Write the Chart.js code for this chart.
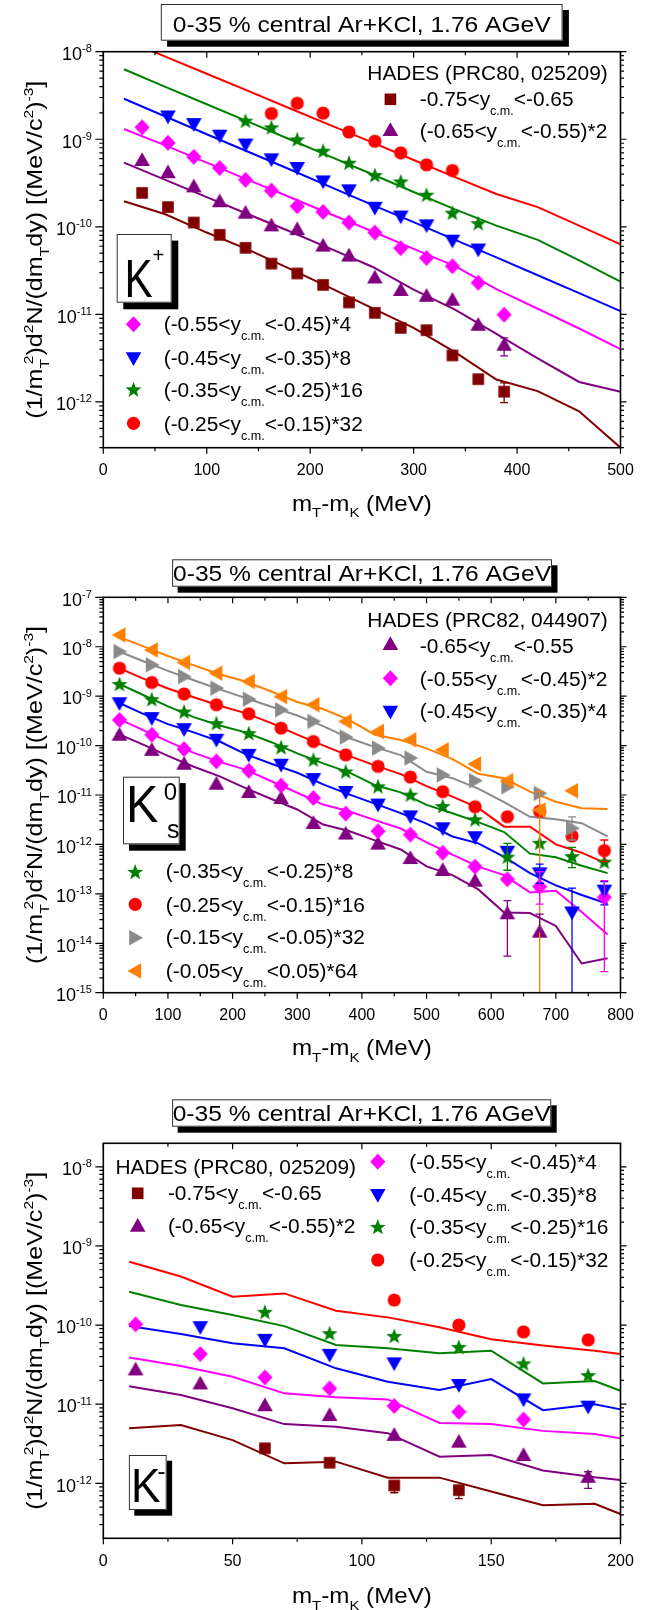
<!DOCTYPE html>
<html lang="en">
<head>
    <meta charset="UTF-8">
    <title>Kaon transverse mass spectra, Ar+KCl 1.76 AGeV</title>
    <script src="https://cdn.jsdelivr.net/npm/chart.js"></script>
    <style>
        body { margin: 0; background: #fff; }
        #wrap { position: relative; width: 659px; height: 1610px; }
        #wrap canvas { position: absolute; left: 0; }
    </style>
</head>
<body>
    <div id="wrap">
        <canvas id="kplus" width="659" height="530" style="top:0px"></canvas>
        <canvas id="k0s" width="659" height="540" style="top:530px"></canvas>
        <canvas id="kminus" width="659" height="540" style="top:1070px"></canvas>
    </div>
    <script>
        // ---------- K+ (PRC80, 025209) ----------
        const kpX = [37.5, 62.5, 87.5, 112.5, 137.5, 162.5, 187.5, 212.5, 237.5, 262.5, 287.5, 312.5, 337.5, 362.5, 387.5];
        const kpBrown   = [2.44e-10, 1.68e-10, 1.12e-10, 8.1e-11, 5.75e-11, 3.8e-11, 2.93e-11, 2.17e-11, 1.37e-11, 1.04e-11, 7.0e-12, 6.6e-12, 3.4e-12, 1.82e-12, 1.31e-12];
        const kpPurple  = [5.8e-10, 4.2e-10, 2.9e-10, 1.96e-10, 1.45e-10, 1.04e-10, 9.4e-11, 6.1e-11, 4.7e-11, 2.64e-11, 1.9e-11, 1.63e-11, 1.47e-11, 7.6e-12, 4.5e-12];
        const kpMagenta = [1.37e-9, 9.1e-10, 6.3e-10, 4.7e-10, 3.44e-10, 2.59e-10, 1.72e-10, 1.48e-10, 1.12e-10, 8.6e-11, 5.7e-11, 4.4e-11, 3.55e-11, 2.3e-11, 9.9e-12];
        const kpBlue    = [null, 1.82e-9, 1.49e-9, 1.10e-9, 8.7e-10, 5.9e-10, 4.7e-10, 3.3e-10, 2.61e-10, 1.65e-10, 1.31e-10, 1.04e-10, 6.95e-11, 5.5e-11, null];
        const kpGreen   = [null, null, null, null, 1.63e-9, 1.37e-9, 1.0e-9, 7.4e-10, 5.4e-10, 3.9e-10, 3.3e-10, 2.33e-10, 1.45e-10, 1.1e-10, null];
        const kpRed     = [null, null, null, null, null, 1.97e-9, 2.58e-9, 1.99e-9, 1.21e-9, 9.5e-10, 7.0e-10, 5.1e-10, 4.4e-10, null, null];
        const kpBrownErr  = [null, null, null, null, null, null, null, null, null, null, null, null, null, null, [9.8e-13, 1.65e-12]];
        const kpPurpleErr = [null, null, null, null, null, null, null, null, null, null, null, null, null, null, [3.35e-12, 5.4e-12]];

        const kpLineX = [20, 60, 100, 140, 180, 220, 260, 300, 340, 380, 420, 460, 500];
        const kpRedLine     = [1.39e-8, 8.8e-9, 5.6e-9, 3.57e-9, 2.26e-9, 1.44e-9, 9.2e-10, 5.8e-10, 3.7e-10, 2.37e-10, 1.68e-10, 1.03e-10, 6.3e-11];
        const kpGreenLine   = [6.3e-9, 3.97e-9, 2.51e-9, 1.59e-9, 1.0e-9, 6.3e-10, 3.98e-10, 2.5e-10, 1.58e-10, 1.03e-10, 7.1e-11, 4.14e-11, 2.36e-11];
        const kpBlueLine    = [2.9e-9, 1.82e-9, 1.14e-9, 7.2e-10, 4.54e-10, 2.84e-10, 1.78e-10, 1.13e-10, 7.1e-11, 4.48e-11, 2.8e-11, 1.75e-11, 1.09e-11];
        const kpMagentaLine = [1.31e-9, 8.5e-10, 5.4e-10, 3.44e-10, 2.19e-10, 1.39e-10, 8.9e-11, 5.6e-11, 3.55e-11, 1.94e-11, 1.16e-11, 6.9e-12, 4.0e-12];
        const kpPurpleLine  = [5.4e-10, 3.44e-10, 2.18e-10, 1.39e-10, 8.9e-11, 5.6e-11, 3.5e-11, 1.92e-11, 1.13e-11, 6.0e-12, 3.15e-12, 1.69e-12, 1.31e-12];
        const kpBrownLine   = [1.96e-10, 1.39e-10, 8.6e-11, 5.5e-11, 3.33e-11, 1.99e-11, 1.18e-11, 7.0e-12, 3.7e-12, 1.8e-12, 1.33e-12, 7.8e-13, 3.0e-13];

        // ---------- K0s (PRC82, 044907) ----------
        const k0X = [25, 75, 125, 175, 225, 275, 325, 375, 425, 475, 525, 575, 625, 675, 725, 775];
        const k0Orange  = [1.73e-8, 8.6e-9, 4.8e-9, 2.92e-9, 1.98e-9, 9.8e-10, 6.7e-10, 3.08e-10, 1.93e-10, 1.31e-10, 8.2e-11, 4.25e-11, 1.95e-11, 4.98e-12, 1.22e-11, null];
        const k0Gray    = [8.0e-9, 4.3e-9, 2.49e-9, 1.45e-9, 8.7e-10, 5.3e-10, 3.08e-10, 1.49e-10, 8.9e-11, 5.6e-11, 2.54e-11, 1.95e-11, 1.47e-11, 1.08e-11, 2.12e-12, null];
        const k0Red     = [3.68e-9, 1.89e-9, 1.11e-9, 6.7e-10, 4.4e-10, 2.26e-10, 1.21e-10, 6.5e-11, 3.8e-11, 2.31e-11, 1.17e-11, 5.8e-12, 3.64e-12, 4.7e-12, 1.48e-12, 7.5e-13];
        const k0Green   = [1.77e-9, 8.7e-10, 4.9e-10, 2.85e-10, 1.79e-10, 9.3e-11, 5.2e-11, 3.0e-11, 1.5e-11, 1.02e-11, 6.0e-12, 3.23e-12, 5.65e-13, 1.08e-12, 5.8e-13, 4.5e-13];
        const k0Blue    = [7.2e-10, 3.6e-10, 2.15e-10, 1.31e-10, 6.5e-11, 4.1e-11, 2.1e-11, 1.15e-11, 6.4e-12, 3.7e-12, 2.12e-12, 1.4e-12, 7.1e-13, 2.6e-13, 4.2e-14, 1.16e-13];
        const k0Magenta = [3.3e-10, 1.66e-10, 8.5e-11, 4.8e-11, 3.1e-11, 1.55e-11, 8.7e-12, 4.2e-12, 1.85e-12, 1.58e-12, 6.8e-13, 3.55e-13, 1.97e-13, 1.4e-13, null, 8.5e-14];
        const k0Purple  = [1.66e-10, 8.2e-11, 4.3e-11, 1.69e-11, 1.15e-11, 8.7e-12, 2.72e-12, 1.66e-12, 1.04e-12, 5.3e-13, 3.04e-13, 1.85e-13, 4.05e-14, 1.72e-14, null, null];
        const k0OrangeErr  = [null, null, null, null, null, null, null, null, null, null, null, null, null, [1e-16, 1.17e-11], null, null];
        const k0GrayErr    = [null, null, null, null, null, null, null, null, null, null, null, null, null, null, [1.23e-12, 3.6e-12], null];
        const k0RedErr     = [null, null, null, null, null, null, null, null, null, null, null, null, null, null, null, [4.5e-13, 1.23e-12]];
        const k0GreenErr   = [null, null, null, null, null, null, null, null, null, null, null, null, [3.0e-13, 1.05e-12], null, [3.4e-13, 8.7e-13], null];
        const k0BlueErr    = [null, null, null, null, null, null, null, null, null, null, null, null, null, [1.64e-13, 4.0e-13], [1e-16, 1.3e-13], [6.0e-14, 1.77e-13]];
        const k0MagentaErr = [null, null, null, null, null, null, null, null, null, null, null, null, null, [6.2e-14, 2.8e-13], null, [2.66e-15, 1.85e-13]];
        const k0PurpleErr  = [null, null, null, null, null, null, null, null, null, null, null, null, [5.5e-15, 7.3e-14], [1.72e-14, 3.9e-14], null, null];

        const k0LineX = [20, 60, 100, 140, 180, 220, 260, 300, 340, 380, 420, 460, 500, 540, 580, 620, 660, 700, 740, 780];
        const k0OrangeLine  = [1.66e-8, 1.04e-8, 6.5e-9, 4.2e-9, 2.78e-9, 1.98e-9, 1.24e-9, 7.6e-10, 5.5e-10, 3.3e-10, 1.66e-10, 1.3e-10, 8.8e-11, 5.3e-11, 2.7e-11, 2.18e-11, 1.17e-11, 7.3e-12, 5.4e-12, 5.2e-12];
        const k0GrayLine    = [8.5e-9, 5.2e-9, 3.25e-9, 2.1e-9, 1.37e-9, 9.2e-10, 6.1e-10, 4.06e-10, 2.48e-10, 1.42e-10, 9.3e-11, 6.4e-11, 2.95e-11, 2.19e-11, 1.35e-11, 7.2e-12, 3.63e-12, 3.24e-12, 2.69e-12, 1.45e-12];
        const k0RedLine     = [3.92e-9, 2.31e-9, 1.43e-9, 9.5e-10, 6.4e-10, 4.54e-10, 2.85e-10, 1.66e-10, 1.01e-10, 6.2e-11, 3.97e-11, 2.65e-11, 1.51e-11, 9.3e-12, 5.5e-12, 2.29e-12, 2.29e-12, 1.0e-12, 6.8e-13, 4.0e-13];
        const k0GreenLine   = [1.89e-9, 1.08e-9, 6.2e-10, 3.77e-10, 2.55e-10, 1.85e-10, 1.17e-10, 6.95e-11, 4.37e-11, 2.87e-11, 1.59e-11, 1.13e-11, 6.3e-12, 4.27e-12, 2.82e-12, 1.78e-12, 6.5e-13, 5.5e-13, 3.7e-13, 2.63e-13];
        const k0BlueLine    = [7.8e-10, 4.47e-10, 2.72e-10, 1.85e-10, 1.21e-10, 6.7e-11, 4.3e-11, 2.82e-11, 1.64e-11, 1.03e-11, 6.7e-12, 4.3e-12, 2.63e-12, 1.45e-12, 1.05e-12, 5.6e-13, 2.63e-13, 1.48e-13, 9.5e-14, 6.3e-14];
        const k0MagentaLine = [3.68e-10, 2.1e-10, 1.22e-10, 7.1e-11, 4.68e-11, 3.27e-11, 1.9e-11, 1.11e-11, 6.4e-12, 4.68e-12, 3.1e-12, 2.1e-12, 1.1e-12, 6.2e-13, 3.55e-13, 2.4e-13, 1.07e-13, 1.15e-13, 4.3e-14, 1.5e-14];
        const k0PurpleLine  = [1.79e-10, 1.07e-10, 6.2e-11, 3.73e-11, 2.38e-11, 1.38e-11, 8.3e-12, 5.1e-12, 2.52e-12, 1.87e-12, 1.21e-12, 7.9e-13, 3.6e-13, 2.4e-13, 1.23e-13, 4.2e-14, 4.1e-14, 2.24e-14, 3.9e-15, 5.0e-15];

        // ---------- K- (PRC80, 025209) ----------
        const kmX = [12.5, 37.5, 62.5, 87.5, 112.5, 137.5, 162.5, 187.5];
        const kmRed     = [null, null, null, null, 2.07e-10, 1.0e-10, 8.2e-11, 6.5e-11];
        const kmGreen   = [null, null, 1.47e-10, 7.9e-11, 7.3e-11, 5.3e-11, 3.28e-11, 2.33e-11];
        const kmBlue    = [null, 9.4e-11, 6.5e-11, 4.2e-11, 3.28e-11, 1.75e-11, 1.15e-11, 9.3e-12];
        const kmMagenta = [1.02e-10, 4.3e-11, 2.18e-11, 1.58e-11, 9.5e-12, 8.0e-12, 6.4e-12, null];
        const kmPurple  = [2.75e-11, 1.83e-11, 9.7e-12, 7.3e-12, 4.1e-12, 3.36e-12, 2.28e-12, 1.21e-12];
        const kmBrown   = [null, null, 2.77e-12, 1.82e-12, 9.4e-13, 8.2e-13, null, null];
        const kmBrownErr  = [null, null, null, null, [7.6e-13, 1.0e-12], [6.4e-13, 9.0e-13], null, null];
        const kmPurpleErr = [null, null, null, null, null, null, null, [8.65e-13, 1.4e-12]];

        const kmLineX = [10, 30, 50, 70, 90, 110, 130, 150, 170, 190, 200];
        const kmRedLine     = [6.3e-10, 4.1e-10, 2.28e-10, 2.51e-10, 1.52e-10, 1.25e-10, 9.4e-11, 6.6e-11, 5.5e-11, 4.74e-11, 4.3e-11];
        const kmGreenLine   = [2.64e-10, 1.79e-10, 1.34e-10, 9.7e-11, 5.6e-11, 5.1e-11, 4.4e-11, 4.74e-11, 1.83e-11, 1.96e-11, 1.48e-11];
        const kmBlueLine    = [9.7e-11, 7.7e-11, 5.9e-11, 5.1e-11, 2.84e-11, 1.92e-11, 1.51e-11, 2.08e-11, 8.4e-12, 1.0e-11, 8.6e-12];
        const kmMagentaLine = [3.9e-11, 3.03e-11, 2.22e-11, 1.37e-11, 1.22e-11, 1.15e-11, 5.8e-12, 5.6e-12, 4.6e-12, 4.2e-12, 3.7e-12];
        const kmPurpleLine  = [1.69e-11, 1.31e-11, 8.9e-12, 5.6e-12, 5.2e-12, 4.3e-12, 2.17e-12, 2.28e-12, 1.45e-12, 1.19e-12, 1.1e-12];
        const kmBrownLine   = [4.95e-12, 5.45e-12, 3.52e-12, 1.79e-12, 1.88e-12, 1.18e-12, 1.18e-12, 7.9e-13, 5.3e-13, 5.5e-13, 4.1e-13];

        const FONT = '"Liberation Sans", Arial, Helvetica, sans-serif';
        const RED = '#ff0000', GREEN = '#008000', BLUE = '#0000ff', MAGENTA = '#ff00ff',
              PURPLE = '#800080', BROWN = '#800000', ORANGE = '#ff8000', GRAY = '#8a8a8a';
        const TITLE = '0-35 % central Ar+KCl, 1.76 AGeV';

        function drawShape(g, shape, x, y, color) {
            g.fillStyle = color;
            g.beginPath();
            if (shape === 'circle') {
                g.arc(x, y, 6.6, 0, Math.PI * 2);
            } else if (shape === 'square') {
                g.rect(x - 5.8, y - 5.8, 11.6, 11.6);
            } else if (shape === 'diamond') {
                g.moveTo(x, y - 8); g.lineTo(x + 7.6, y); g.lineTo(x, y + 8); g.lineTo(x - 7.6, y);
            } else if (shape === 'up') {
                g.moveTo(x, y - 7.8); g.lineTo(x + 7.8, y + 6); g.lineTo(x - 7.8, y + 6);
            } else if (shape === 'down') {
                g.moveTo(x, y + 7.8); g.lineTo(x + 7.8, y - 6); g.lineTo(x - 7.8, y - 6);
            } else if (shape === 'left') {
                g.moveTo(x - 7.8, y); g.lineTo(x + 6, y - 7.8); g.lineTo(x + 6, y + 7.8);
            } else if (shape === 'right') {
                g.moveTo(x + 7.8, y); g.lineTo(x - 6, y - 7.8); g.lineTo(x - 6, y + 7.8);
            } else if (shape === 'star') {
                for (let i = 0; i < 10; i++) {
                    const r = i % 2 ? 3.5 : 8.4;
                    const t = -Math.PI / 2 + i * Math.PI / 5;
                    const px = x + r * Math.cos(t), py = y + r * Math.sin(t) + 0.8;
                    if (i === 0) g.moveTo(px, py); else g.lineTo(px, py);
                }
            }
            g.closePath();
            g.fill();
        }

        function sprite(shape, color) {
            const c = document.createElement('canvas');
            c.width = 20; c.height = 20;
            drawShape(c.getContext('2d'), shape, 10, 10, color);
            return c;
        }

        function pts(xs, ys, errs) {
            const out = [];
            xs.forEach((x, i) => {
                if (ys[i] == null) return;
                out.push({ x: x, y: ys[i], err: errs ? errs[i] : null });
            });
            return out;
        }

        function markers(xs, ys, shape, color, errs) {
            return { data: pts(xs, ys, errs), pointStyle: sprite(shape, color), pointRadius: 7,
                     showLine: false, order: 0, errColor: color };
        }

        function model(xs, ys, color) {
            return { data: pts(xs, ys), showLine: true, borderColor: color, borderWidth: 2,
                     pointRadius: 0, tension: 0, order: 1 };
        }

        // text with _{sub} and ^{sup} pieces
        function parseRich(s) {
            const out = [];
            const re = /([_^])\{([^}]*)\}/g;
            let last = 0, m;
            while ((m = re.exec(s))) {
                if (m.index > last) out.push([s.slice(last, m.index), '']);
                out.push([m[2], m[1]]);
                last = re.lastIndex;
            }
            if (last < s.length) out.push([s.slice(last), '']);
            return out;
        }

        function drawRich(ctx, s, x, y, size, o) {
            o = o || {};
            const parts = parseRich(s);
            const small = size * (o.small || 0.6);
            const layout = [];
            let cx = 0, subStart = null, subW = 0;
            parts.forEach(p => {
                const sz = p[1] ? small : size;
                ctx.font = sz + 'px ' + FONT;
                const w = ctx.measureText(p[0]).width;
                let dx = cx;
                if (p[1] === '^' && subStart !== null) {
                    dx = subStart + subW * 0.45;
                    cx = Math.max(subStart + subW, dx + w);
                } else {
                    cx += w;
                }
                subStart = p[1] === '_' ? dx : null;
                subW = w;
                const dy = p[1] === '_' ? size * (o.subDy || 0.42) : (p[1] === '^' ? -size * (o.supDy || 0.42) : 0);
                layout.push([p[0], sz, dx, dy]);
            });
            const sx = o.width ? o.width / cx : (o.sx || 1);
            const total = cx * sx;
            const x0 = o.align === 'center' ? x - total / 2 : x;
            ctx.save();
            ctx.translate(x0, y);
            ctx.scale(sx, 1);
            ctx.fillStyle = '#000';
            ctx.textAlign = 'left';
            ctx.textBaseline = 'alphabetic';
            layout.forEach(l => {
                ctx.font = l[1] + 'px ' + FONT;
                ctx.fillText(l[0], l[2], l[3]);
            });
            ctx.restore();
        }

        function shadowBox(ctx, x, y, w, h, dx, dy) {
            ctx.fillStyle = '#000';
            ctx.fillRect(x + dx, y + dy, w, h);
            ctx.fillStyle = '#fff';
            ctx.fillRect(x, y, w, h);
            ctx.strokeStyle = '#333';
            ctx.lineWidth = 1;
            ctx.strokeRect(x + 0.5, y + 0.5, w - 1, h - 1);
        }

        const errorBars = {
            id: 'errorBars',
            afterDatasetsDraw(chart) {
                const ctx = chart.ctx, a = chart.chartArea, ys = chart.scales.y;
                ctx.save();
                ctx.beginPath();
                ctx.rect(a.left, a.top, a.right - a.left, a.bottom - a.top);
                ctx.clip();
                chart.data.datasets.forEach((ds, di) => {
                    if (!ds.errColor) return;
                    const meta = chart.getDatasetMeta(di);
                    ds.data.forEach((p, i) => {
                        if (!p.err) return;
                        const px = meta.data[i].x;
                        const lo = ys.getPixelForValue(p.err[0]);
                        const hi = ys.getPixelForValue(p.err[1]);
                        ctx.strokeStyle = ds.errColor;
                        ctx.lineWidth = 1.3;
                        ctx.beginPath();
                        ctx.moveTo(px, lo); ctx.lineTo(px, hi);
                        ctx.moveTo(px - 4, hi); ctx.lineTo(px + 4, hi);
                        ctx.moveTo(px - 4, lo); ctx.lineTo(px + 4, lo);
                        ctx.stroke();
                    });
                });
                ctx.restore();
            }
        };

        function decor(cfg) {
            return {
                id: 'decor',
                beforeDraw(chart) {
                    const ctx = chart.ctx;
                    ctx.save();
                    ctx.fillStyle = '#fff';
                    ctx.fillRect(0, 0, chart.width, chart.height);
                    ctx.restore();
                },
                afterDraw(chart) {
                    const ctx = chart.ctx, a = chart.chartArea;
                    const xs = chart.scales.x, ys = chart.scales.y;
                    ctx.save();

                    // frame and ticks
                    ctx.strokeStyle = '#000';
                    ctx.lineWidth = 1.6;
                    ctx.strokeRect(a.left, a.top, a.right - a.left, a.bottom - a.top);
                    ctx.lineWidth = 1.2;
                    ctx.beginPath();
                    for (let v = 0; v <= cfg.xMax + 1e-9; v += cfg.xMinor) {
                        const px = xs.getPixelForValue(v);
                        const major = Math.abs(v / cfg.xMajor - Math.round(v / cfg.xMajor)) < 1e-6;
                        const len = major ? 6 : 3.5;
                        ctx.moveTo(px, a.bottom); ctx.lineTo(px, a.bottom + len);
                        ctx.moveTo(px, a.top); ctx.lineTo(px, a.top + len);
                    }
                    const e0 = Math.floor(Math.log10(ys.min)), e1 = Math.ceil(Math.log10(ys.max));
                    for (let e = e0; e <= e1; e++) {
                        for (let k = 1; k <= 9; k++) {
                            const v = k * Math.pow(10, e);
                            if (v < ys.min * 0.999 || v > ys.max * 1.001) continue;
                            const py = ys.getPixelForValue(v);
                            const len = k === 1 ? 8 : 4;
                            ctx.moveTo(a.left - len, py); ctx.lineTo(a.left, py);
                            ctx.moveTo(a.right, py); ctx.lineTo(a.right + (k === 1 ? 6 : 3.5), py);
                        }
                    }
                    ctx.stroke();

                    // tick labels
                    ctx.fillStyle = '#000';
                    ctx.textBaseline = 'alphabetic';
                    ctx.font = '16px ' + FONT;
                    ctx.textAlign = 'center';
                    for (let v = 0; v <= cfg.xMax + 1e-9; v += cfg.xMajor) {
                        ctx.fillText(String(v), xs.getPixelForValue(v), a.bottom + 27.5);
                    }
                    ctx.textAlign = 'left';
                    for (let e = e0; e <= e1; e++) {
                        const v = Math.pow(10, e);
                        if (v < ys.min * 0.999 || v > ys.max * 1.001) continue;
                        const py = ys.getPixelForValue(v);
                        const ex = String(e);
                        ctx.font = '11px ' + FONT;
                        const we = ctx.measureText(ex).width;
                        ctx.font = '18px ' + FONT;
                        const wb = ctx.measureText('10').width;
                        const xe = a.left - 11.5;
                        ctx.fillText('10', xe - we - wb, py + 8.3);
                        ctx.font = '11px ' + FONT;
                        ctx.fillText(ex, xe - we, py + 0.5);
                    }

                    // axis titles
                    drawRich(ctx, 'm_{T}-m_{K} (MeV)', (a.left + a.right) / 2, cfg.xTitleY, 22,
                             { align: 'center', width: 140, small: 0.62, subDy: 0.3 });
                    ctx.save();
                    ctx.translate(42, (a.top + a.bottom) / 2);
                    ctx.rotate(-Math.PI / 2);
                    drawRich(ctx, '(1/m_{T}^{2})d^{2}N/(dm_{T}dy) [(MeV/c^{2})^{-3}]', 0, 0, 22,
                             { align: 'center', width: 338, small: 0.62, subDy: 0.3, supDy: 0.42 });
                    ctx.restore();

                    // title box
                    const tb = cfg.titleBox;
                    shadowBox(ctx, tb[0], tb[1], tb[2], tb[3], tb[4], tb[5]);
                    drawRich(ctx, TITLE, tb[0] + tb[2] / 2, cfg.titleY, 22, { align: 'center', width: 378 });

                    // particle box
                    const kb = cfg.kBox;
                    shadowBox(ctx, kb[0], kb[1], kb[2], kb[3], kb[4], kb[5]);
                    cfg.kText.forEach(t => {
                        ctx.save();
                        ctx.fillStyle = '#000';
                        ctx.textAlign = 'left';
                        ctx.font = t[3] + 'px ' + FONT;
                        ctx.translate(t[1], t[2]);
                        ctx.scale(t[4] || 1, 1);
                        ctx.fillText(t[0], 0, 0);
                        ctx.restore();
                    });

                    // legend
                    cfg.legend.forEach(l => {
                        if (l.shape) drawShape(ctx, l.shape, l.mx, l.my, l.color);
                        drawRich(ctx, l.text, l.x, l.y, 20, { sx: 1.045, small: 0.6, subDy: 0.45 });
                    });
                    ctx.restore();
                }
            };
        }

        function makePanel(id, cfg, datasets) {
            return new Chart(document.getElementById(id), {
                type: 'scatter',
                data: { datasets: datasets },
                options: {
                    responsive: false,
                    animation: false,
                    events: [],
                    layout: { padding: cfg.padding },
                    scales: {
                        x: { type: 'linear', min: 0, max: cfg.xMax, display: false },
                        y: { type: 'logarithmic', min: cfg.yMin, max: cfg.yMax, display: false }
                    },
                    plugins: { legend: { display: false }, tooltip: { enabled: false } }
                },
                plugins: [decor(cfg), errorBars]
            });
        }

        const range = 'y_{c.m.}';

        makePanel('kplus', {
            padding: { left: 103.3, top: 51.7, right: 38.5, bottom: 82.3 },
            xMax: 500, xMajor: 100, xMinor: 50, yMin: 3.45e-13, yMax: 1e-8,
            xTitleY: 510.7,
            titleBox: [160.8, 4, 401.8, 36.7, 6.3, 6], titleY: 31.7,
            kBox: [116.7, 234, 55, 68.7, 6.6, 6.6],
            kText: [['K', 124.5, 296.5, 54, 0.78], ['+', 152.5, 262.4, 20]],
            legend: [
                { text: 'HADES (PRC80, 025209)', x: 367.3, y: 80 },
                { shape: 'square', color: BROWN, mx: 390.4, my: 99.3, text: '-0.75<' + range + '<-0.65', x: 419.8, y: 106 },
                { shape: 'up', color: PURPLE, mx: 390.4, my: 130, text: '(-0.65<' + range + '<-0.55)*2', x: 419.8, y: 138.3 },
                { shape: 'diamond', color: MAGENTA, mx: 133.5, my: 324.3, text: '(-0.55<' + range + '<-0.45)*4', x: 163.7, y: 331 },
                { shape: 'down', color: BLUE, mx: 133.5, my: 358.3, text: '(-0.45<' + range + '<-0.35)*8', x: 163.7, y: 365 },
                { shape: 'star', color: GREEN, mx: 133.5, my: 389.3, text: '(-0.35<' + range + '<-0.25)*16', x: 163.7, y: 396.7 },
                { shape: 'circle', color: RED, mx: 133.5, my: 423.3, text: '(-0.25<' + range + '<-0.15)*32', x: 163.7, y: 430.7 }
            ]
        }, [
            markers(kpX, kpRed, 'circle', RED),
            markers(kpX, kpGreen, 'star', GREEN),
            markers(kpX, kpBlue, 'down', BLUE),
            markers(kpX, kpMagenta, 'diamond', MAGENTA),
            markers(kpX, kpPurple, 'up', PURPLE, kpPurpleErr),
            markers(kpX, kpBrown, 'square', BROWN, kpBrownErr),
            model(kpLineX, kpRedLine, RED),
            model(kpLineX, kpGreenLine, GREEN),
            model(kpLineX, kpBlueLine, BLUE),
            model(kpLineX, kpMagentaLine, MAGENTA),
            model(kpLineX, kpPurpleLine, PURPLE),
            model(kpLineX, kpBrownLine, BROWN)
        ]);

        makePanel('k0s', {
            padding: { left: 103.3, top: 67.3, right: 38.5, bottom: 77.3 },
            xMax: 800, xMajor: 100, xMinor: 50, yMin: 1e-15, yMax: 1e-7,
            xTitleY: 525,
            titleBox: [172.1, 29.3, 379.9, 27.4, 5.5, 6], titleY: 50.7,
            kBox: [123, 246.7, 56.7, 67.6, 6, 6.4],
            kText: [['K', 126, 291.7, 51, 0.95], ['0', 163.7, 270, 24], ['s', 167, 308.3, 25]],
            legend: [
                { text: 'HADES (PRC82, 044907)', x: 367.3, y: 97.3 },
                { shape: 'up', color: PURPLE, mx: 390.4, my: 114, text: '-0.65<' + range + '<-0.55', x: 419.8, y: 123.3 },
                { shape: 'diamond', color: MAGENTA, mx: 390.4, my: 148.3, text: '(-0.55<' + range + '<-0.45)*2', x: 419.8, y: 156 },
                { shape: 'down', color: BLUE, mx: 390.4, my: 181.7, text: '(-0.45<' + range + '<-0.35)*4', x: 419.8, y: 188.3 },
                { shape: 'star', color: GREEN, mx: 135.2, my: 341.7, text: '(-0.35<' + range + '<-0.25)*8', x: 165.8, y: 348.3 },
                { shape: 'circle', color: RED, mx: 135.2, my: 374.3, text: '(-0.25<' + range + '<-0.15)*16', x: 165.8, y: 381.7 },
                { shape: 'right', color: GRAY, mx: 135.2, my: 407.7, text: '(-0.15<' + range + '<-0.05)*32', x: 165.8, y: 414 },
                { shape: 'left', color: ORANGE, mx: 135.2, my: 441, text: '(-0.05<' + range + '<0.05)*64', x: 165.8, y: 448.3 }
            ]
        }, [
            markers(k0X, k0Orange, 'left', ORANGE, k0OrangeErr),
            markers(k0X, k0Gray, 'right', GRAY, k0GrayErr),
            markers(k0X, k0Red, 'circle', RED, k0RedErr),
            markers(k0X, k0Green, 'star', GREEN, k0GreenErr),
            markers(k0X, k0Blue, 'down', BLUE, k0BlueErr),
            markers(k0X, k0Magenta, 'diamond', MAGENTA, k0MagentaErr),
            markers(k0X, k0Purple, 'up', PURPLE, k0PurpleErr),
            model(k0LineX, k0OrangeLine, ORANGE),
            model(k0LineX, k0GrayLine, GRAY),
            model(k0LineX, k0RedLine, RED),
            model(k0LineX, k0GreenLine, GREEN),
            model(k0LineX, k0BlueLine, BLUE),
            model(k0LineX, k0MagentaLine, MAGENTA),
            model(k0LineX, k0PurpleLine, PURPLE)
        ]);

        makePanel('kminus', {
            padding: { left: 103.3, top: 73.3, right: 38.5, bottom: 71.7 },
            xMax: 200, xMajor: 50, xMinor: 25, yMin: 2.02e-13, yMax: 1.98e-8,
            xTitleY: 533.3,
            titleBox: [172.1, 29.3, 379.1, 27.4, 5.5, 6], titleY: 50.7,
            kBox: [128.9, 385, 37.8, 55, 5.4, 5.7],
            kText: [['K', 131, 431.7, 49, 0.9], ['-', 157.6, 409, 24]],
            legend: [
                { text: 'HADES (PRC80, 025209)', x: 115.5, y: 104 },
                { shape: 'square', color: BROWN, mx: 137.7, my: 123.3, text: '-0.75<' + range + '<-0.65', x: 167.9, y: 130 },
                { shape: 'up', color: PURPLE, mx: 137.7, my: 155.7, text: '(-0.65<' + range + '<-0.55)*2', x: 167.9, y: 162.7 },
                { shape: 'diamond', color: MAGENTA, mx: 377.8, my: 91.7, text: '(-0.55<' + range + '<-0.45)*4', x: 409.3, y: 99.3 },
                { shape: 'down', color: BLUE, mx: 377.8, my: 125, text: '(-0.45<' + range + '<-0.35)*8', x: 409.3, y: 131.7 },
                { shape: 'star', color: GREEN, mx: 377.8, my: 156.7, text: '(-0.35<' + range + '<-0.25)*16', x: 409.3, y: 164 },
                { shape: 'circle', color: RED, mx: 377.8, my: 190, text: '(-0.25<' + range + '<-0.15)*32', x: 409.3, y: 196.7 }
            ]
        }, [
            markers(kmX, kmRed, 'circle', RED),
            markers(kmX, kmGreen, 'star', GREEN),
            markers(kmX, kmBlue, 'down', BLUE),
            markers(kmX, kmMagenta, 'diamond', MAGENTA),
            markers(kmX, kmPurple, 'up', PURPLE, kmPurpleErr),
            markers(kmX, kmBrown, 'square', BROWN, kmBrownErr),
            model(kmLineX, kmRedLine, RED),
            model(kmLineX, kmGreenLine, GREEN),
            model(kmLineX, kmBlueLine, BLUE),
            model(kmLineX, kmMagentaLine, MAGENTA),
            model(kmLineX, kmPurpleLine, PURPLE),
            model(kmLineX, kmBrownLine, BROWN)
        ]);
    </script>
</body>
</html>
